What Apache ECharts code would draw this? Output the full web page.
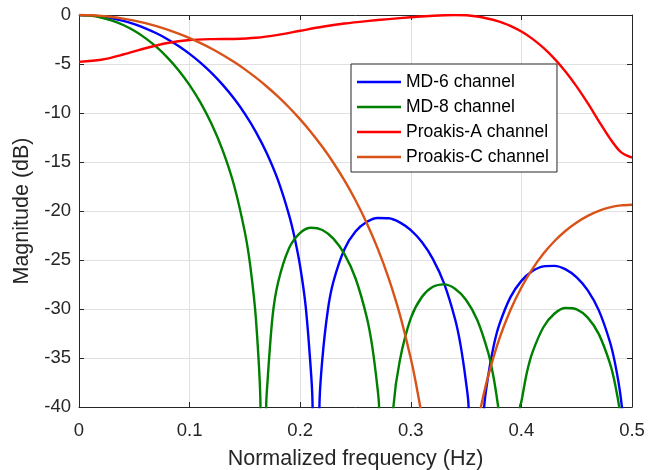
<!DOCTYPE html>
<html>
<head>
<meta charset="utf-8">
<script src="https://cdn.jsdelivr.net/npm/echarts@6/dist/echarts.min.js"></script>
<style>
  html, body { margin: 0; padding: 0; background: #ffffff; }
  #chart { width: 661px; height: 470px; }
</style>
</head>
<body>
<div id="chart"></div>
<script>
// Axis ticks
const xTicks = [0, 0.1, 0.2, 0.3, 0.4, 0.5];
const yTicks = [-40, -35, -30, -25, -20, -15, -10, -5, 0];

const seriesNames = ['MD-6 channel', 'MD-8 channel', 'Proakis-A channel', 'Proakis-C channel'];

// Magnitude responses in dB (values below -40 fall outside the plot and are clipped)
const freqMD6 = [0, 0.01, 0.02, 0.03, 0.04, 0.05, 0.06, 0.07, 0.08, 0.09, 0.10, 0.11, 0.12, 0.13, 0.14, 0.15, 0.16, 0.17, 0.18, 0.19, 0.195, 0.20, 0.205, 0.21, 0.21119, 0.21429, 0.21739, 0.22, 0.225, 0.23, 0.24, 0.25, 0.26, 0.27, 0.28, 0.29, 0.30, 0.31, 0.32, 0.33, 0.34, 0.345, 0.35, 0.35225, 0.35923, 0.36, 0.36636, 0.37, 0.375, 0.38, 0.39, 0.40, 0.41, 0.42, 0.43, 0.44, 0.45, 0.46, 0.47, 0.48, 0.485, 0.49, 0.495, 0.5];
const magMD6 = [0, -0.037, -0.148, -0.334, -0.596, -0.937, -1.359, -1.867, -2.466, -3.162, -3.964, -4.882, -5.931, -7.130, -8.503, -10.090, -11.944, -14.157, -16.884, -20.447, -22.76, -25.691, -29.777, -36.853, -40, -120, -40, -35.137, -30.101, -27.218, -23.898, -22.103, -21.132, -20.718, -20.743, -21.157, -21.955, -23.172, -24.906, -27.357, -31.015, -33.687, -37.532, -40, -120, -59.3, -40, -36.807, -33.735, -31.605, -28.814, -27.129, -26.131, -25.645, -25.596, -25.962, -26.769, -28.097, -30.138, -33.342, -35.729, -39.174, -45.2, -120];

const freqMD8 = [0, 0.01, 0.02, 0.03, 0.04, 0.05, 0.06, 0.07, 0.08, 0.09, 0.10, 0.11, 0.12, 0.13, 0.14, 0.15, 0.155, 0.16, 0.16409, 0.16667, 0.16925, 0.17, 0.175, 0.18, 0.19, 0.20, 0.21, 0.22, 0.23, 0.24, 0.25, 0.26, 0.265, 0.27, 0.27131, 0.27778, 0.28, 0.28425, 0.29, 0.30, 0.31, 0.32, 0.33, 0.34, 0.35, 0.36, 0.37, 0.375, 0.37905, 0.38, 0.38889, 0.39, 0.39873, 0.40, 0.405, 0.41, 0.42, 0.43, 0.44, 0.45, 0.46, 0.47, 0.48, 0.485, 0.49, 0.495, 0.5];
const magMD8 = [0, -0.063, -0.253, -0.572, -1.024, -1.616, -2.358, -3.261, -4.344, -5.629, -7.152, -8.964, -11.144, -13.831, -17.293, -22.180, -25.724, -31.062, -40, -120, -40, -38.137, -30.756, -27.290, -23.786, -22.230, -21.712, -21.938, -22.821, -24.398, -26.862, -30.757, -33.715, -38.164, -40, -120, -49.49, -40, -35.293, -30.938, -28.772, -27.730, -27.486, -27.928, -29.076, -31.096, -34.469, -37.068, -40, -40.93, -120, -59.1, -40, -39.447, -36.465, -34.424, -31.839, -30.456, -29.896, -30.032, -30.876, -32.566, -35.532, -37.84, -41.225, -47.24, -120];

const freqProakisA = [0, 0.02, 0.04, 0.06, 0.08, 0.10, 0.12, 0.14, 0.16, 0.18, 0.20, 0.22, 0.24, 0.26, 0.28, 0.30, 0.32, 0.34, 0.36, 0.38, 0.39, 0.40, 0.41, 0.42, 0.43, 0.44, 0.45, 0.46, 0.47, 0.48, 0.49, 0.50];
const magProakisA = [-4.784, -4.571, -4.032, -3.391, -2.861, -2.556, -2.461, -2.442, -2.324, -2.025, -1.611, -1.201, -0.870, -0.620, -0.417, -0.230, -0.070, -0.004, -0.155, -0.668, -1.108, -1.692, -2.438, -3.361, -4.475, -5.789, -7.304, -8.999, -10.827, -12.591, -14.001, -14.565];

const freqProakisC = [0, 0.01, 0.02, 0.03, 0.04, 0.05, 0.06, 0.07, 0.08, 0.09, 0.10, 0.11, 0.12, 0.13, 0.14, 0.15, 0.16, 0.17, 0.18, 0.19, 0.20, 0.21, 0.22, 0.23, 0.24, 0.25, 0.26, 0.27, 0.28, 0.29, 0.30, 0.305, 0.31, 0.32, 0.3338, 0.35, 0.36, 0.365, 0.37, 0.38, 0.39, 0.40, 0.41, 0.42, 0.43, 0.44, 0.45, 0.46, 0.47, 0.48, 0.49, 0.50];
const magProakisC = [0, -0.0227, -0.0912, -0.2053, -0.366, -0.5734, -0.829, -1.133, -1.487, -1.894, -2.354, -2.869, -3.443, -4.079, -4.780, -5.549, -6.394, -7.318, -8.330, -9.437, -10.650, -11.983, -13.451, -15.074, -16.879, -18.902, -21.190, -23.811, -26.871, -30.527, -35.061, -37.80, -41.0, -49.5, -66.3, -49.46, -41.94, -39.17, -36.83, -33.06, -30.135, -27.80, -25.902, -24.343, -23.061, -22.012, -21.165, -20.496, -19.991, -19.638, -19.427, -19.359];

const lineColors = ['#0000ff', '#008000', '#ff0000', '#d95319'];

const pairs = (xs, ys) => xs.map((x, i) => [x, ys[i]]);

const axisColor = '#262626';
const gridColor = '#e0e0e0';
const fontFamily = '"Liberation Sans", Arial, Helvetica, sans-serif';

const chart = echarts.init(document.getElementById('chart'), null, { renderer: 'canvas' });

const baseX = {
  type: 'value',
  min: xTicks[0],
  max: xTicks[xTicks.length - 1],
  interval: xTicks[1] - xTicks[0],
  axisLine: { show: true, onZero: false, lineStyle: { color: axisColor, width: 1 } },
  axisTick: { show: true, inside: true, length: 5, lineStyle: { color: axisColor } }
};
const baseY = {
  type: 'value',
  min: yTicks[0],
  max: yTicks[yTicks.length - 1],
  interval: yTicks[1] - yTicks[0],
  axisLine: { show: true, onZero: false, lineStyle: { color: axisColor, width: 1 } },
  axisTick: { show: true, inside: true, length: 5, lineStyle: { color: axisColor } }
};

function lineSeries(idx, xs, ys) {
  return {
    name: seriesNames[idx],
    type: 'line',
    data: pairs(xs, ys),
    xAxisIndex: 0,
    yAxisIndex: 0,
    showSymbol: false,
    symbol: 'none',
    smooth: 0.3,
    clip: true,
    color: lineColors[idx],
    lineStyle: { color: lineColors[idx], width: 2.4 },
    emphasis: { disabled: true },
    z: 3 + idx
  };
}

chart.setOption({
  animation: false,
  backgroundColor: '#ffffff',
  textStyle: { fontFamily: fontFamily },
  grid: {
    left: 79, top: 15, right: 29, bottom: 63,
    containLabel: false,
    outerBoundsMode: 'none'
  },
  legend: {
    data: seriesNames,
    orient: 'vertical',
    left: 351,
    top: 64,
    icon: 'rect',
    itemWidth: 44,
    itemHeight: 2.5,
    itemGap: 7,
    padding: [9, 8, 6, 6],
    backgroundColor: '#ffffff',
    borderColor: axisColor,
    borderWidth: 1,
    borderRadius: 0,
    textStyle: { fontSize: 17.5, lineHeight: 17, color: '#000000', fontFamily: fontFamily }
  },
  xAxis: [
    Object.assign({}, baseX, {
      position: 'bottom',
      name: 'Normalized frequency (Hz)',
      nameLocation: 'middle',
      nameGap: 41,
      nameTextStyle: { fontSize: 21.5, color: axisColor, fontFamily: fontFamily },
      axisLabel: { show: true, margin: 14, fontSize: 18.5, color: axisColor, fontFamily: fontFamily },
      splitLine: { show: true, lineStyle: { color: gridColor, width: 1 } }
    }),
    Object.assign({}, baseX, {
      position: 'top',
      axisLabel: { show: false },
      splitLine: { show: false }
    })
  ],
  yAxis: [
    Object.assign({}, baseY, {
      position: 'left',
      name: 'Magnitude (dB)',
      nameLocation: 'middle',
      nameGap: 39,
      nameTextStyle: { fontSize: 21.5, color: axisColor, fontFamily: fontFamily },
      axisLabel: { show: true, margin: 8, fontSize: 18.5, color: axisColor, fontFamily: fontFamily },
      splitLine: { show: true, lineStyle: { color: gridColor, width: 1 } }
    }),
    Object.assign({}, baseY, {
      position: 'right',
      axisLabel: { show: false },
      splitLine: { show: false }
    })
  ],
  series: [
    lineSeries(0, freqMD6, magMD6),
    lineSeries(1, freqMD8, magMD8),
    lineSeries(2, freqProakisA, magProakisA),
    lineSeries(3, freqProakisC, magProakisC)
  ]
});
</script>
</body>
</html>
